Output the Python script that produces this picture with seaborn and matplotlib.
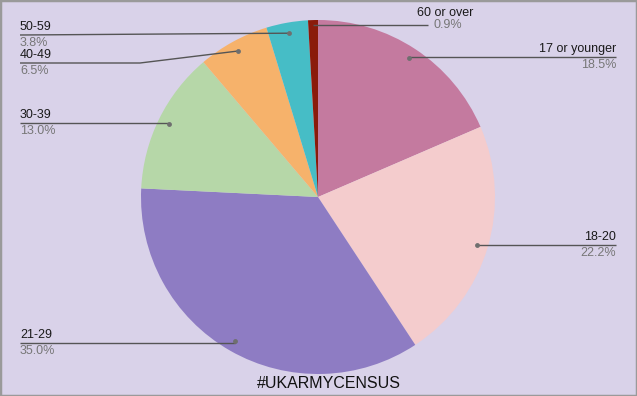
import numpy as np
import matplotlib
matplotlib.use("Agg")
import matplotlib.pyplot as plt
import seaborn as sns
from matplotlib.patches import Rectangle

categories = ["17 or younger", "18-20", "21-29", "30-39", "40-49", "50-59", "60 or over"]
values = [18.5, 22.2, 35.0, 13.0, 6.5, 3.8, 0.9]
pct_labels = ["18.5%", "22.2%", "35.0%", "13.0%", "6.5%", "3.8%", "0.9%"]
colors = ["#c47a9f", "#f4cccd", "#8e7cc3", "#b6d7a8", "#f6b26b", "#46bdc6", "#8a1b0b"]
title = "#UKARMYCENSUS"

sns.set_theme(style="white")
plt.rcParams["font.family"] = ["Liberation Sans", "DejaVu Sans"]

W, H = 637, 396
BG = "#d9d2e9"
fig = plt.figure(figsize=(W / 100, H / 100), dpi=100, facecolor=BG)
ax = fig.add_axes([0, 0, 1, 1])
ax.set_facecolor(BG)

cx, cy_px, R = 318, 197, 177
wedges, _ = ax.pie(values, colors=colors, startangle=90, counterclock=False,
                   center=(cx, H - cy_px), radius=R,
                   wedgeprops=dict(linewidth=0))
ax.set_xlim(0, W)
ax.set_ylim(0, H)
ax.set_aspect("auto")
ax.axis("off")

# layout for leader lines (pixel coords, y down)
layout = {
    "17 or younger": dict(side="R", line_y=57, elbow=None, rf=0.94),
    "18-20": dict(side="R", line_y=245, elbow=None, rf=0.94),
    "21-29": dict(side="L", line_y=343, elbow=None, rf=0.94),
    "30-39": dict(side="L", line_y=123, elbow=None, rf=0.94),
    "40-49": dict(side="L", line_y=63, elbow=140, rf=0.94),
    "50-59": dict(side="L", line_y=35, elbow="straight", rf=0.94),
    "60 or over": dict(side="T", line_y=25, elbow=None, rf=0.97),
}
LINE = "#555555"
NAME_C = "#1a1a1a"
PCT_C = "#777777"
FS = 9

for w, name, pct in zip(wedges, categories, pct_labels):
    L = layout[name]
    mid = np.deg2rad((w.theta1 + w.theta2) / 2)
    dx = cx + L["rf"] * R * np.cos(mid)
    dy_px = cy_px - L["rf"] * R * np.sin(mid)
    ly = L["line_y"]
    if L["side"] == "R":
        end_x = 616
    elif L["side"] == "L":
        end_x = 20
    else:
        end_x = 428
    if L["elbow"] == "straight":
        xs = [dx, end_x]
        ys = [dy_px, ly]
    elif L["elbow"] is None:
        xs = [dx, dx, end_x]
        ys = [dy_px, ly, ly]
    else:
        xs = [dx, L["elbow"], end_x]
        ys = [dy_px, ly, ly]
    ax.plot(xs, [H - y for y in ys], color=LINE, lw=1.0, solid_capstyle="butt")
    if L["side"] != "T":
        ax.plot([dx], [H - dy_px], "o", color="#6f6f6f", ms=3.5, mec="none")
    if L["side"] == "R":
        ax.text(end_x, H - (ly - 8), name, ha="right", va="center", fontsize=FS, color=NAME_C)
        ax.text(end_x, H - (ly + 8), pct, ha="right", va="center", fontsize=FS, color=PCT_C)
    elif L["side"] == "L":
        ax.text(end_x, H - (ly - 8), name, ha="left", va="center", fontsize=FS, color=NAME_C)
        ax.text(end_x, H - (ly + 8), pct, ha="left", va="center", fontsize=FS, color=PCT_C)
    else:
        ax.text(445, H - 13, name, ha="center", va="center", fontsize=FS, color=NAME_C)
        ax.text(433, H - ly, pct, ha="left", va="center", fontsize=FS, color=PCT_C)

ax.text(329, H - 383, title, ha="center", va="center", fontsize=11.5, color="#111111")

fig.patches.append(Rectangle((0, 0), 1, 1, transform=fig.transFigure, fill=False,
                             edgecolor="#9a9a9a", lw=2.5))

fig.savefig("out.png", dpi=100, facecolor=BG)
